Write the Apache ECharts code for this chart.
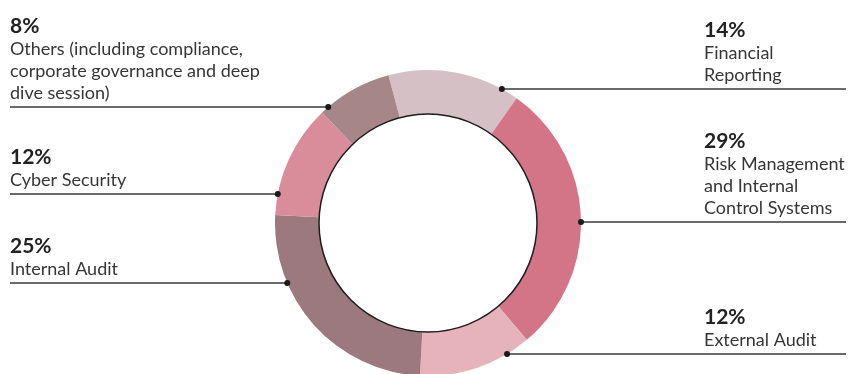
<!DOCTYPE html>
<html>
<head>
<meta charset="utf-8">
<script src="https://cdn.jsdelivr.net/npm/echarts@6/dist/echarts.min.js"></script>
<style>
  html, body { margin: 0; padding: 0; background: #fff; }
  #chart { width: 851px; height: 374px; }
</style>
</head>
<body>
<div id="chart"></div>
<script>
const categories = [
  'Financial\nReporting',
  'Risk Management\nand Internal\nControl Systems',
  'External Audit',
  'Internal Audit',
  'Cyber Security',
  'Others (including compliance,\ncorporate governance and deep\ndive session)'
]
const shares = [14, 29, 12, 25, 12, 8]
const sliceColors = ['#d4c0c5', '#d47487', '#e6b3bb', '#9b797e', '#d98c99', '#a68689']

// leader line height and side for each label
const leaderY = [89, 222, 354, 283, 194, 107]
const leaderSide = ['right', 'right', 'right', 'left', 'left', 'left']

const cx = 428, cy = 223, rOuter = 153, rInner = 109
const leftX = 10, rightX = 704, rightEnd = 846

function dotX(i) {
  const dy = leaderY[i] - cy
  const dx = Math.sqrt(Math.max(rOuter * rOuter - dy * dy, 0))
  return leaderSide[i] === 'left' ? cx - dx : cx + dx
}

const chart = echarts.init(document.getElementById('chart'))

chart.setOption({
  animation: false,
  textStyle: { fontFamily: 'Lato' },
  series: [{
    type: 'pie',
    center: [cx, cy],
    radius: [rInner, rOuter],
    startAngle: 105,
    clockwise: true,
    avoidLabelOverlap: false,
    silent: true,
    data: categories.map((name, i) => ({
      name,
      value: shares[i],
      itemStyle: { color: sliceColors[i] }
    })),
    label: {
      show: true,
      position: 'outside',
      formatter: '{p|{c}%}\n{n|{b}}',
      rich: {
        p: { fontFamily: 'Lato', fontWeight: 'bold', fontSize: 21, color: '#222', lineHeight: 24 },
        n: { fontFamily: 'Lato', fontSize: 18, color: '#363636', lineHeight: 22 }
      }
    },
    labelLine: {
      show: true,
      lineStyle: { color: '#3a3a3a', width: 1.5 }
    },
    labelLayout: function (p) {
      const i = p.dataIndex
      const y = leaderY[i]
      const x0 = dotX(i)
      const left = leaderSide[i] === 'left'
      return {
        x: left ? leftX : rightX,
        y: y - 3,
        align: 'left',
        verticalAlign: 'bottom',
        labelLinePoints: [[x0, y], [x0, y], [left ? leftX : rightEnd, y]]
      }
    }
  }],
  graphic: [
    {
      type: 'circle',
      shape: { cx, cy, r: rInner },
      style: { fill: 'none', stroke: '#1e1e1e', lineWidth: 1.5 },
      z: 50
    },
    ...shares.map((_, i) => ({
      type: 'circle',
      shape: { cx: dotX(i), cy: leaderY[i], r: 3 },
      style: { fill: '#1a1a1a' },
      z: 60
    }))
  ]
})
</script>
</body>
</html>
